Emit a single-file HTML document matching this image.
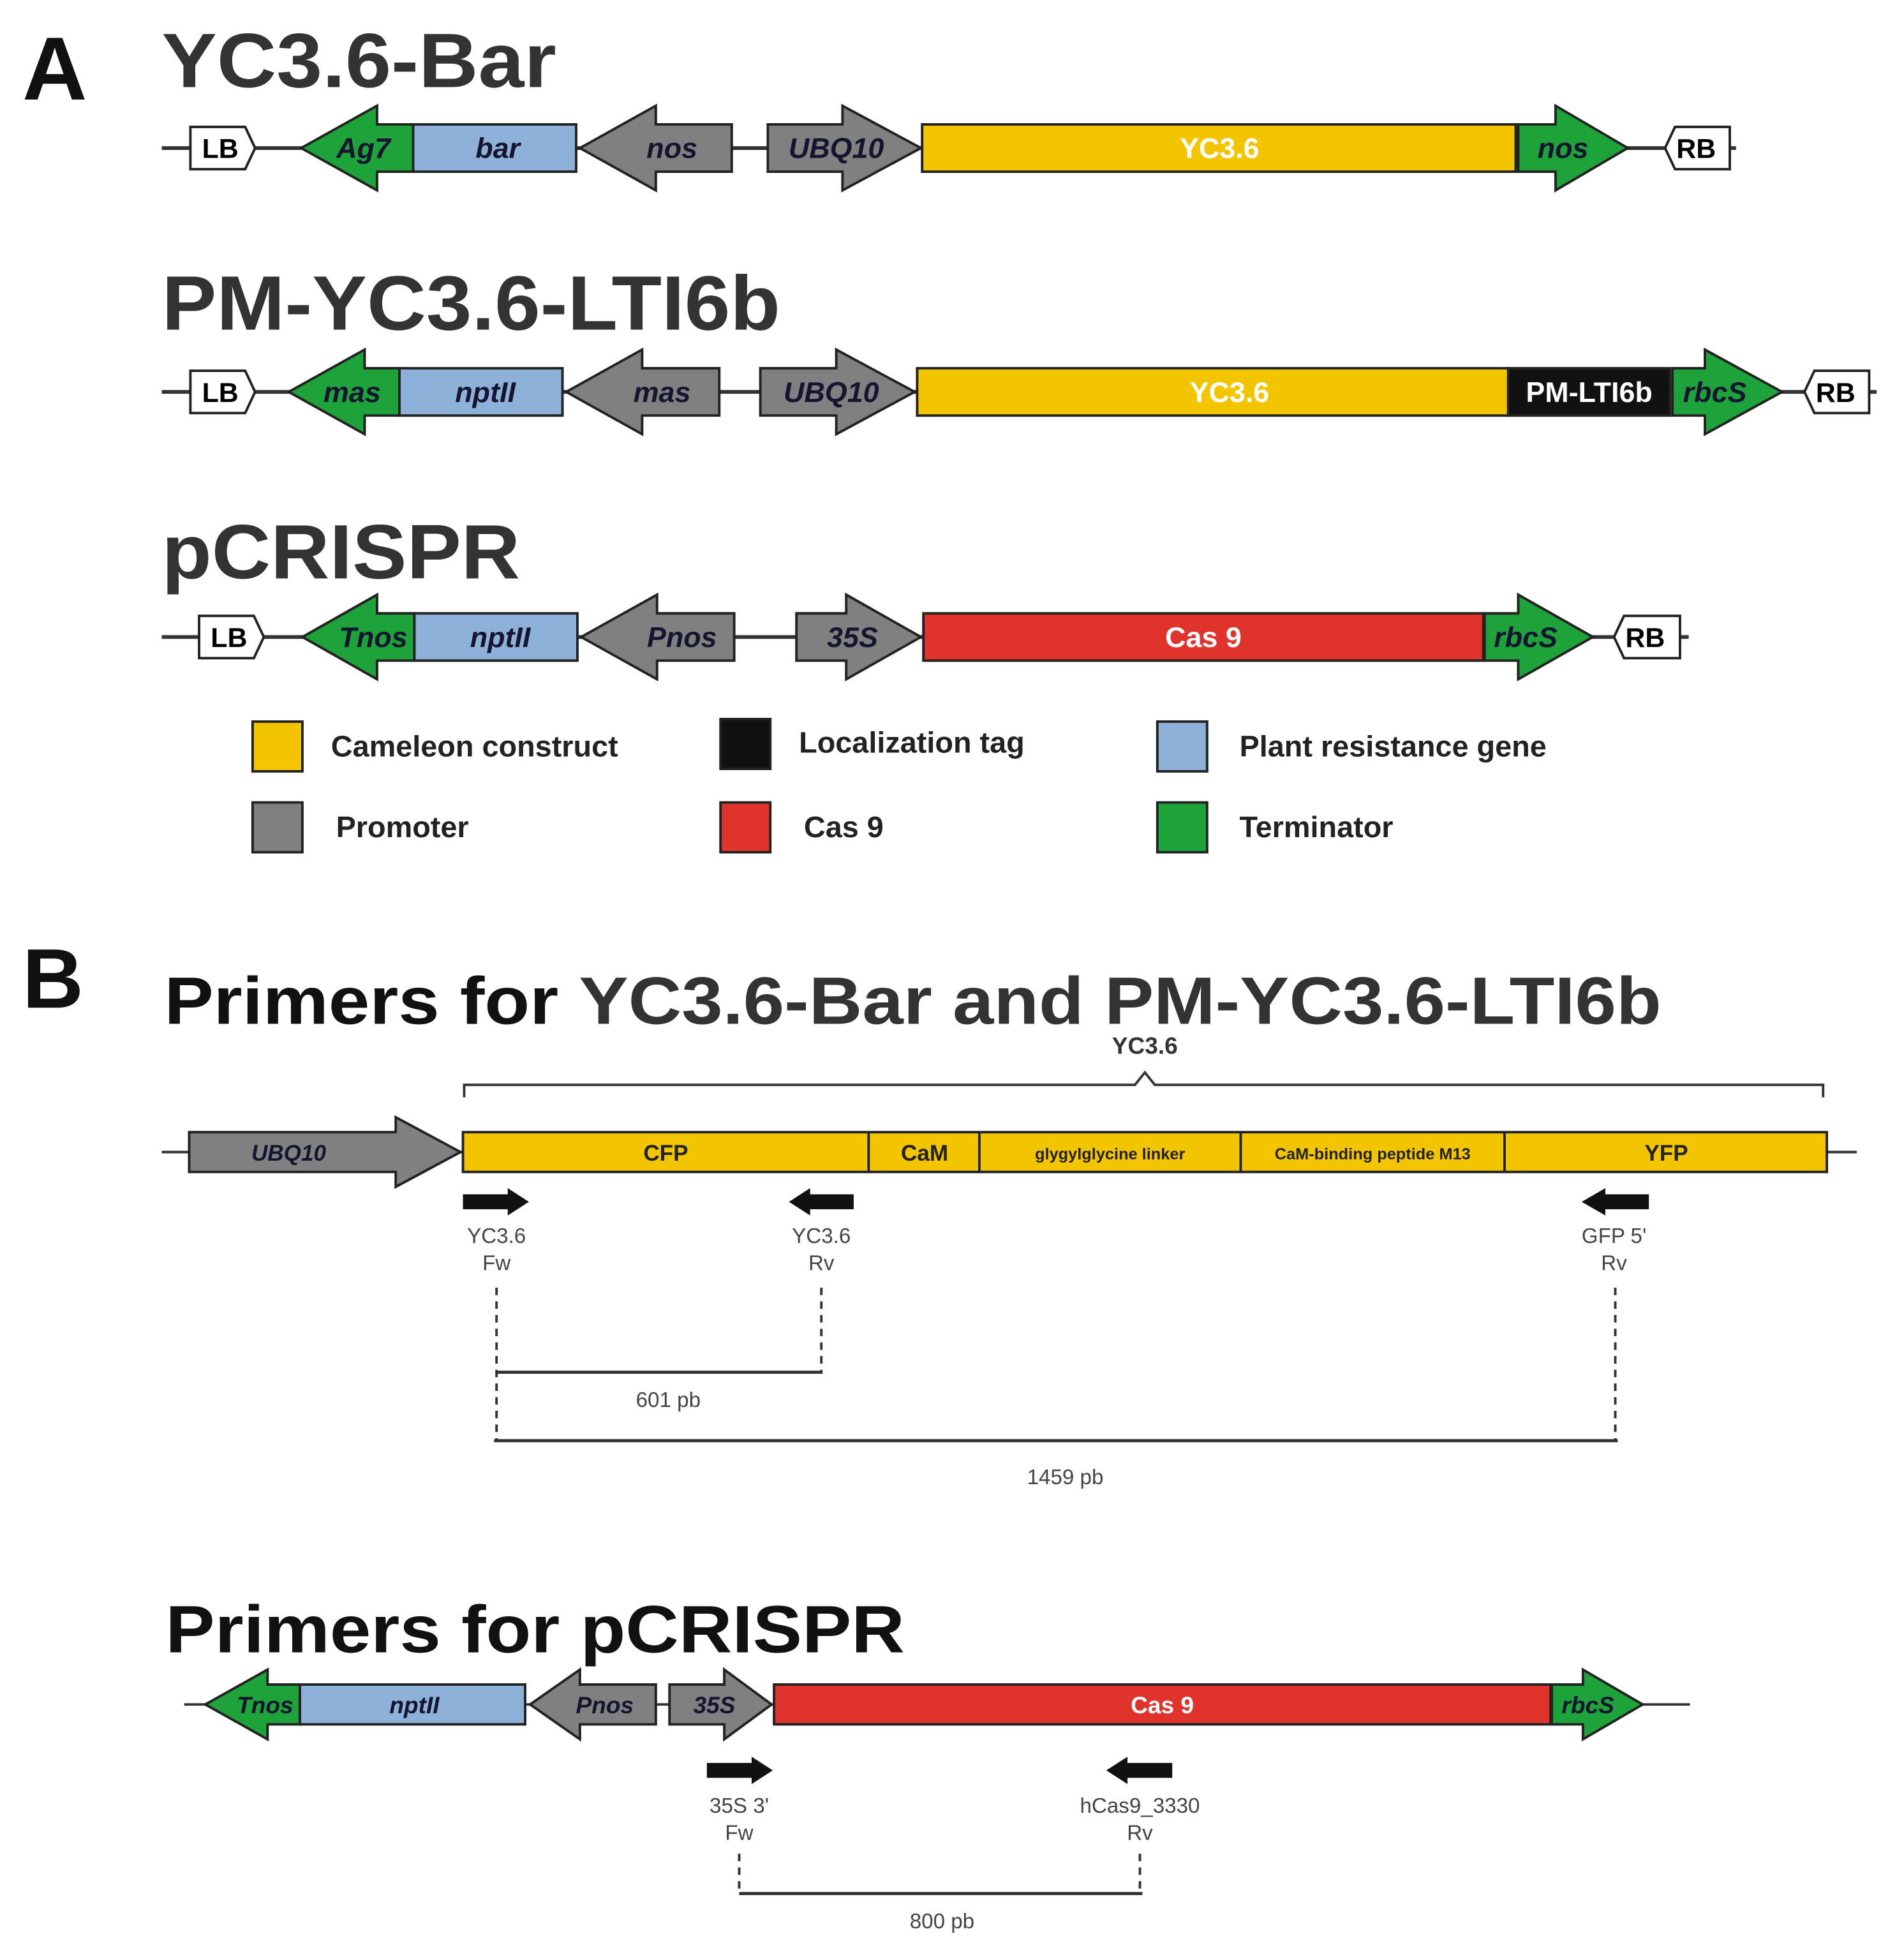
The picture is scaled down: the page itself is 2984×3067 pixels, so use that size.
<!DOCTYPE html>
<html><head><meta charset="utf-8">
<style>
html,body{margin:0;padding:0;background:#fff;}
svg{display:block;}
.t{font-family:"Liberation Sans",Arial,sans-serif;font-weight:bold;fill:#333;}
.lb{font-family:"Liberation Sans",Arial,sans-serif;font-weight:bold;font-style:italic;fill:#151530;font-size:23px;text-anchor:middle;}
.w{font-family:"Liberation Sans",Arial,sans-serif;font-weight:bold;fill:#fff;font-size:23px;text-anchor:middle;}
.bx{font-family:"Liberation Sans",Arial,sans-serif;font-weight:bold;fill:#000;font-size:22px;text-anchor:middle;}
.lg{font-family:"Liberation Sans",Arial,sans-serif;font-weight:bold;fill:#222;font-size:24px;}
.sm{font-family:"Liberation Sans",Arial,sans-serif;fill:#444;font-size:17px;text-anchor:middle;}
.k{stroke:#222;stroke-width:2;}
</style></head>
<body>
<svg width="2984" height="3067" viewBox="0 0 1530 1573" preserveAspectRatio="none" xmlns="http://www.w3.org/2000/svg">
<text x="18" y="80" class="t" style="font-size:72px;fill:#111">A</text>
<text x="18" y="810" class="t" style="font-size:68px;fill:#111">B</text>

<!-- ROW 1 -->
<text x="130" y="70" class="t" style="font-size:62px" textLength="317" lengthAdjust="spacingAndGlyphs">YC3.6-Bar</text>
<line x1="130" y1="119" x2="1395" y2="119" stroke="#333" stroke-width="3"/>
<polygon class="k" fill="#fff" points="153,102 197,102 205,119 197,136 153,136"/>
<text x="177" y="127" class="bx">LB</text>
<polygon class="k" fill="#1EA33A" points="242,119 303,85 303,100 332,100 332,138 303,138 303,153"/>
<text x="292" y="127" class="lb">Ag7</text>
<rect class="k" fill="#8EB1D9" x="332" y="100" width="131" height="38"/>
<text x="400" y="127" class="lb">bar</text>
<polygon class="k" fill="#808080" points="466,119 527,85 527,100 588,100 588,138 527,138 527,153"/>
<text x="540" y="127" class="lb">nos</text>
<polygon class="k" fill="#808080" points="617,100 677,100 677,85 740,119 677,153 677,138 617,138"/>
<text x="672" y="127" class="lb">UBQ10</text>
<rect class="k" fill="#F2C500" x="741" y="100" width="477" height="38"/>
<text x="980" y="127" class="w">YC3.6</text>
<polygon class="k" fill="#1EA33A" points="1220,100 1250,100 1250,85 1308,119 1250,153 1250,138 1220,138"/>
<text x="1256" y="127" class="lb">nos</text>
<polygon class="k" fill="#fff" points="1346,102 1390,102 1390,136 1346,136 1338,119"/>
<text x="1363" y="127" class="bx">RB</text>

<!-- ROW 2 -->
<text x="130" y="265" class="t" style="font-size:62px" textLength="497" lengthAdjust="spacingAndGlyphs">PM-YC3.6-LTI6b</text>
<line x1="130" y1="315" x2="1508" y2="315" stroke="#333" stroke-width="3"/>
<polygon class="k" fill="#fff" points="153,298 197,298 205,315 197,332 153,332"/>
<text x="177" y="323" class="bx">LB</text>
<polygon class="k" fill="#1EA33A" points="232,315 293,281 293,296 321,296 321,334 293,334 293,349"/>
<text x="283" y="323" class="lb">mas</text>
<rect class="k" fill="#8EB1D9" x="321" y="296" width="131" height="38"/>
<text x="390" y="323" class="lb">nptII</text>
<polygon class="k" fill="#808080" points="455,315 516,281 516,296 578,296 578,334 516,334 516,349"/>
<text x="532" y="323" class="lb">mas</text>
<polygon class="k" fill="#808080" points="611,296 672,296 672,281 735,315 672,349 672,334 611,334"/>
<text x="668" y="323" class="lb">UBQ10</text>
<rect class="k" fill="#F2C500" x="737" y="296" width="475" height="38"/>
<text x="988" y="323" class="w">YC3.6</text>
<rect class="k" fill="#111" x="1212" y="296" width="130" height="38"/>
<text x="1277" y="323" class="w">PM-LTI6b</text>
<polygon class="k" fill="#1EA33A" points="1344,296 1370,296 1370,281 1432,315 1370,349 1370,334 1344,334"/>
<text x="1378" y="323" class="lb">rbcS</text>
<polygon class="k" fill="#fff" points="1458,298 1502,298 1502,332 1458,332 1450,315"/>
<text x="1475" y="323" class="bx">RB</text>

<!-- ROW 3 -->
<text x="130" y="465" class="t" style="font-size:62px" textLength="288" lengthAdjust="spacingAndGlyphs">pCRISPR</text>
<line x1="130" y1="512" x2="1357" y2="512" stroke="#333" stroke-width="3"/>
<polygon class="k" fill="#fff" points="160,495 204,495 212,512 204,529 160,529"/>
<text x="184" y="520" class="bx">LB</text>
<polygon class="k" fill="#1EA33A" points="243,512 303,478 303,493 333,493 333,531 303,531 303,546"/>
<text x="300" y="520" class="lb">Tnos</text>
<rect class="k" fill="#8EB1D9" x="333" y="493" width="131" height="38"/>
<text x="402" y="520" class="lb">nptII</text>
<polygon class="k" fill="#808080" points="467,512 528,478 528,493 590,493 590,531 528,531 528,546"/>
<text x="548" y="520" class="lb">Pnos</text>
<polygon class="k" fill="#808080" points="640,493 680,493 680,478 740,512 680,546 680,531 640,531"/>
<text x="685" y="520" class="lb">35S</text>
<rect class="k" fill="#E0332B" x="742" y="493" width="450" height="38"/>
<text x="967" y="520" class="w">Cas 9</text>
<polygon class="k" fill="#1EA33A" points="1193,493 1220,493 1220,478 1280,512 1220,546 1220,531 1193,531"/>
<text x="1226" y="520" class="lb">rbcS</text>
<polygon class="k" fill="#fff" points="1305,495 1350,495 1350,529 1305,529 1297,512"/>
<text x="1322" y="520" class="bx">RB</text>

<!-- Legend -->
<rect class="k" fill="#F2C500" x="203" y="580" width="40" height="40"/>
<text x="266" y="608" class="lg">Cameleon construct</text>
<rect class="k" fill="#111" x="579" y="578" width="40" height="40"/>
<text x="642" y="605" class="lg">Localization tag</text>
<rect class="k" fill="#8EB1D9" x="930" y="580" width="40" height="40"/>
<text x="996" y="608" class="lg">Plant resistance gene</text>
<rect class="k" fill="#808080" x="203" y="645" width="40" height="40"/>
<text x="270" y="673" class="lg">Promoter</text>
<rect class="k" fill="#E0332B" x="579" y="645" width="40" height="40"/>
<text x="646" y="673" class="lg">Cas 9</text>
<rect class="k" fill="#1EA33A" x="930" y="645" width="40" height="40"/>
<text x="996" y="673" class="lg">Terminator</text>

<!-- B section 1 -->
<text x="132" y="823" class="t" style="font-size:54px;fill:#111" textLength="1203" lengthAdjust="spacingAndGlyphs">Primers for <tspan style="fill:#333">YC3.6-Bar and PM-YC3.6-LTI6b</tspan></text>
<text x="920" y="847" class="sm" style="font-weight:bold;fill:#333;font-size:19px">YC3.6</text>
<polyline points="373,882 373,872 912,872 920,862 928,872 1465,872 1465,882" fill="none" stroke="#333" stroke-width="2"/>
<line x1="130" y1="926" x2="1492" y2="926" stroke="#333" stroke-width="2"/>
<polygon class="k" fill="#808080" points="152,910 318,910 318,898 370,926 318,954 318,942 152,942"/>
<text x="232" y="933" class="lb" style="font-size:18px">UBQ10</text>
<rect class="k" fill="#F2C500" x="372" y="910" width="1096" height="32"/>
<line x1="698" y1="910" x2="698" y2="942" class="k"/>
<line x1="787" y1="910" x2="787" y2="942" class="k"/>
<line x1="997" y1="910" x2="997" y2="942" class="k"/>
<line x1="1209" y1="910" x2="1209" y2="942" class="k"/>
<text x="535" y="933" class="bx" style="font-size:18px;fill:#222">CFP</text>
<text x="743" y="933" class="bx" style="font-size:18px;fill:#222">CaM</text>
<text x="892" y="932" class="bx" style="font-size:13px;fill:#222">glygylglycine linker</text>
<text x="1103" y="932" class="bx" style="font-size:13px;fill:#222">CaM-binding peptide M13</text>
<text x="1339" y="933" class="bx" style="font-size:18px;fill:#222">YFP</text>

<polygon fill="#111" points="372,960 408,960 408,955 425,966 408,977 408,972 372,972"/>
<polygon fill="#111" points="686,960 651,960 651,955 634,966 651,977 651,972 686,972"/>
<polygon fill="#111" points="1325,960 1290,960 1290,955 1271,966 1290,977 1290,972 1325,972"/>
<text x="399" y="999" class="sm">YC3.6</text><text x="399" y="1021" class="sm">Fw</text>
<text x="660" y="999" class="sm">YC3.6</text><text x="660" y="1021" class="sm">Rv</text>
<text x="1297" y="999" class="sm">GFP 5'</text><text x="1297" y="1021" class="sm">Rv</text>
<g stroke="#333" stroke-width="2" stroke-dasharray="6,5">
<line x1="399" y1="1035" x2="399" y2="1158"/>
<line x1="660" y1="1035" x2="660" y2="1103"/>
<line x1="1298" y1="1035" x2="1298" y2="1158"/>
</g>
<line x1="399" y1="1103" x2="661" y2="1103" stroke="#333" stroke-width="2.5"/>
<line x1="397" y1="1158" x2="1300" y2="1158" stroke="#333" stroke-width="2.5"/>
<text x="537" y="1131" class="sm">601 pb</text>
<text x="856" y="1193" class="sm">1459 pb</text>

<!-- B section 2 -->
<text x="133" y="1328" class="t" style="font-size:54px;fill:#111" textLength="594" lengthAdjust="spacingAndGlyphs">Primers for pCRISPR</text>
<line x1="148" y1="1370" x2="1358" y2="1370" stroke="#333" stroke-width="2"/>
<polygon class="k" fill="#1EA33A" points="165,1370 215,1342 215,1354 241,1354 241,1386 215,1386 215,1398"/>
<text x="213" y="1377" class="lb" style="font-size:19px">Tnos</text>
<rect class="k" fill="#8EB1D9" x="241" y="1354" width="181" height="32"/>
<text x="333" y="1377" class="lb" style="font-size:19px">nptII</text>
<polygon class="k" fill="#808080" points="426,1370 466,1342 466,1354 527,1354 527,1386 466,1386 466,1398"/>
<text x="486" y="1377" class="lb" style="font-size:19px">Pnos</text>
<polygon class="k" fill="#808080" points="538,1354 582,1354 582,1342 620,1370 582,1398 582,1386 538,1386"/>
<text x="574" y="1377" class="lb" style="font-size:19px">35S</text>
<rect class="k" fill="#E0332B" x="622" y="1354" width="624" height="32"/>
<text x="934" y="1377" class="w" style="font-size:19px">Cas 9</text>
<polygon class="k" fill="#1EA33A" points="1247,1354 1272,1354 1272,1342 1320,1370 1272,1398 1272,1386 1247,1386"/>
<text x="1276" y="1377" class="lb" style="font-size:19px">rbcS</text>

<polygon fill="#111" points="568,1417 604,1417 604,1412 621,1423 604,1434 604,1429 568,1429"/>
<polygon fill="#111" points="942,1417 906,1417 906,1412 889,1423 906,1434 906,1429 942,1429"/>
<text x="594" y="1457" class="sm">35S 3'</text><text x="594" y="1479" class="sm">Fw</text>
<text x="916" y="1457" class="sm">hCas9_3330</text><text x="916" y="1479" class="sm">Rv</text>
<g stroke="#333" stroke-width="2" stroke-dasharray="6,5">
<line x1="594" y1="1490" x2="594" y2="1522"/>
<line x1="916" y1="1490" x2="916" y2="1522"/>
</g>
<line x1="594" y1="1522" x2="918" y2="1522" stroke="#333" stroke-width="2.5"/>
<text x="757" y="1550" class="sm">800 pb</text>
</svg>
</body></html>
